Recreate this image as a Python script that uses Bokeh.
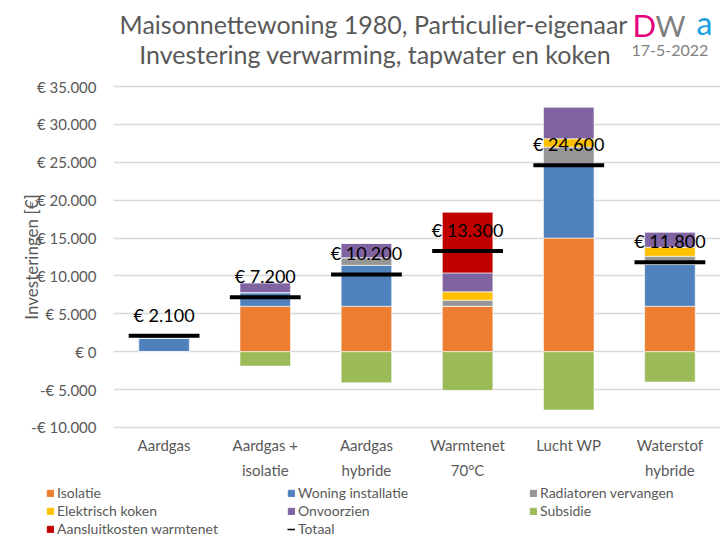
import math
from bokeh.plotting import figure
from bokeh.layouts import column
from bokeh.models import (FactorRange, Range1d, FixedTicker, Label, Legend,
                          LegendItem, ColumnDataSource)
from bokeh.transform import dodge
from bokeh.core.properties import value
from bokeh.embed import file_html
from bokeh.resources import INLINE

# ---------------- data ----------------
categories = ["Aardgas", "Aardgas +\nisolatie", "Aardgas\nhybride",
              "Warmtenet\n70°C", "Lucht WP", "Waterstof\nhybride"]
isolatie = [0, 6000, 6000, 6000, 15000, 6000]
woning_installatie = [1800, 1800, 5400, 0, 9500, 5500]
radiatoren_vervangen = [0, 0, 1000, 800, 2500, 1100]
elektrisch_koken = [0, 0, 0, 1100, 1100, 1200]
onvoorzien = [300, 1300, 1900, 2500, 4200, 2000]
aansluitkosten_warmtenet = [0, 0, 0, 8000, 0, 0]
subsidie = [0, -1900, -4100, -5100, -7700, -4000]
totaal = [2100, 7200, 10200, 13300, 24600, 11800]
y_ticks = [-10000, -5000, 0, 5000, 10000, 15000, 20000, 25000, 30000, 35000]

series_names = ["Isolatie", "Woning installatie", "Radiatoren vervangen",
                "Elektrisch koken", "Onvoorzien", "Aansluitkosten warmtenet"]
series_keys = ["iso", "won", "rad", "elk", "onv", "ans"]
series_colors = ["#ED7D31", "#4F81BD", "#969696", "#FFC000", "#8064A2", "#C00000"]
subsidie_color = "#9BBB59"


def euro(v):
    s = f"{abs(v):,}".replace(",", ".")
    return ("-€ " if v < 0 else "€ ") + s


FONT = "Lato"
GREY = "#595959"
W = 720

# ---------------- title strip (page y 0..70) ----------------
top = figure(width=W, height=70, x_range=Range1d(0, W), y_range=Range1d(70, 0),
             output_backend="svg", toolbar_location=None, min_border=0,
             x_axis_location=None, y_axis_location=None)
top.frame_align = False
top.outline_line_color = None
top.grid.visible = False
for txt, x, y in [("Maisonnettewoning 1980, Particulier-eigenaar", 373, 23),
                  ("Investering verwarming, tapwater en koken", 375, 53)]:
    top.add_layout(Label(x=x, y=y, text=txt, text_font=FONT, text_font_size="25px",
                         text_color=GREY, text_align="center", text_baseline="middle"))
for txt, x, y, col, fs in [("D", 632, 24, "#E5007D", "31px"),
                           ("W", 655, 25, "#7F7F7F", "29px"),
                           ("a", 696, 22, "#1BA1E2", "32px")]:
    top.add_layout(Label(x=x, y=y, text=txt, text_font=FONT, text_font_size=fs,
                         text_color=col, text_align="left", text_baseline="middle"))
top.add_layout(Label(x=631, y=50, text="17-5-2022", text_font=FONT, text_font_size="16px",
                     text_color="#7F7F7F", text_align="left", text_baseline="middle"))

# ---------------- main chart (page y 70..482) ----------------
src = ColumnDataSource(dict(
    cat=categories, iso=isolatie, won=woning_installatie, rad=radiatoren_vervangen,
    elk=elektrisch_koken, onv=onvoorzien, ans=aansluitkosten_warmtenet,
    sub=subsidie, tot=totaal, lbl=[euro(t) for t in totaal]))

YMIN, YMAX = -10264, 35264
p = figure(x_range=FactorRange(*categories), y_range=Range1d(YMIN, YMAX),
           width=W, height=412, output_backend="svg", toolbar_location=None,
           min_border_left=113, min_border_right=0, min_border_top=14,
           min_border_bottom=52)
p.frame_align = False
p.outline_line_color = None

stack_r = p.vbar_stack(series_keys, x="cat", width=0.5, color=series_colors,
                       line_color="white", line_width=0.6, source=src)
sub_r = p.vbar(x="cat", top="sub", bottom=0, width=0.5, color=subsidie_color,
               line_color="white", line_width=0.6, source=src)

p.segment(x0=dodge("cat", -0.35, range=p.x_range), x1=dodge("cat", 0.35, range=p.x_range),
          y0="tot", y1="tot", line_color="black", line_width=4, source=src)

p.text(x="cat", y="tot", text="lbl", source=src, text_font=value(FONT),
       text_font_size="18px", text_color="black", text_align="center",
       text_baseline="middle", y_offset=-21)

p.yaxis.ticker = FixedTicker(ticks=y_ticks)
p.yaxis.major_label_overrides = {t: euro(t) for t in y_ticks}
p.yaxis.axis_line_color = None
p.yaxis.major_tick_line_color = None
p.yaxis.minor_tick_line_color = None
p.yaxis.major_tick_out = 0
p.yaxis.major_label_standoff = 17
p.yaxis.major_label_text_font = FONT
p.yaxis.major_label_text_font_size = "15px"
p.yaxis.major_label_text_color = GREY
p.yaxis.axis_label = "Investeringen [€]"
p.yaxis.axis_label_text_font = FONT
p.yaxis.axis_label_text_font_size = "17px"
p.yaxis.axis_label_text_font_style = "normal"
p.yaxis.axis_label_text_color = GREY
p.yaxis.axis_label_standoff = -14

p.xaxis.axis_line_color = None
p.xaxis.major_tick_line_color = None
p.xaxis.major_tick_out = 0
p.xaxis.major_label_standoff = 6
p.xaxis.major_label_text_font = FONT
p.xaxis.major_label_text_font_size = "15px"
p.xaxis.major_label_text_color = GREY
p.xaxis.major_label_text_line_height = 1.42

p.xgrid.visible = False
p.ygrid.ticker = FixedTicker(ticks=y_ticks)
p.ygrid.grid_line_color = "#D9D9D9"
p.ygrid.grid_line_width = 1.5

# ---------------- legend strip (page y 482..536) ----------------
LH = 54
leg_fig = figure(width=W, height=LH, x_range=Range1d(0, W), y_range=Range1d(0, LH),
                 output_backend="svg", toolbar_location=None, min_border=0,
                 x_axis_location=None, y_axis_location=None)
leg_fig.frame_align = False
leg_fig.outline_line_color = None
leg_fig.grid.visible = False
dummy = {}
for name, col in zip(series_names + ["Subsidie"], series_colors + [subsidie_color]):
    dummy[name] = leg_fig.vbar(x=[-1000], top=[-1000], bottom=[-1001], width=1, color=col)
dummy["Totaal"] = leg_fig.line(x=[-1000, -999], y=[-1000, -1000], line_color="black",
                               line_width=1.5)

cols = [["Isolatie", "Elektrisch koken", "Aansluitkosten warmtenet"],
        ["Woning installatie", "Onvoorzien", "Totaal"],
        ["Radiatoren vervangen", "Subsidie"]]
col_x = [46, 287, 529]
for names, xpage in zip(cols, col_x):
    leg = Legend(items=[LegendItem(label=n, renderers=[dummy[n]]) for n in names],
                 location=(xpage, -1 + 18 * (3 - len(names))), orientation="vertical",
                 padding=0, margin=0, spacing=1, glyph_width=8, glyph_height=8,
                 label_standoff=3, label_height=14, label_text_font=FONT,
                 label_text_font_size="14px", label_text_color=GREY,
                 border_line_color=None, background_fill_alpha=0)
    leg_fig.add_layout(leg, "center")

layout = column(top, p, leg_fig, spacing=0)
open("out.html", "w").write(file_html(layout, INLINE))
